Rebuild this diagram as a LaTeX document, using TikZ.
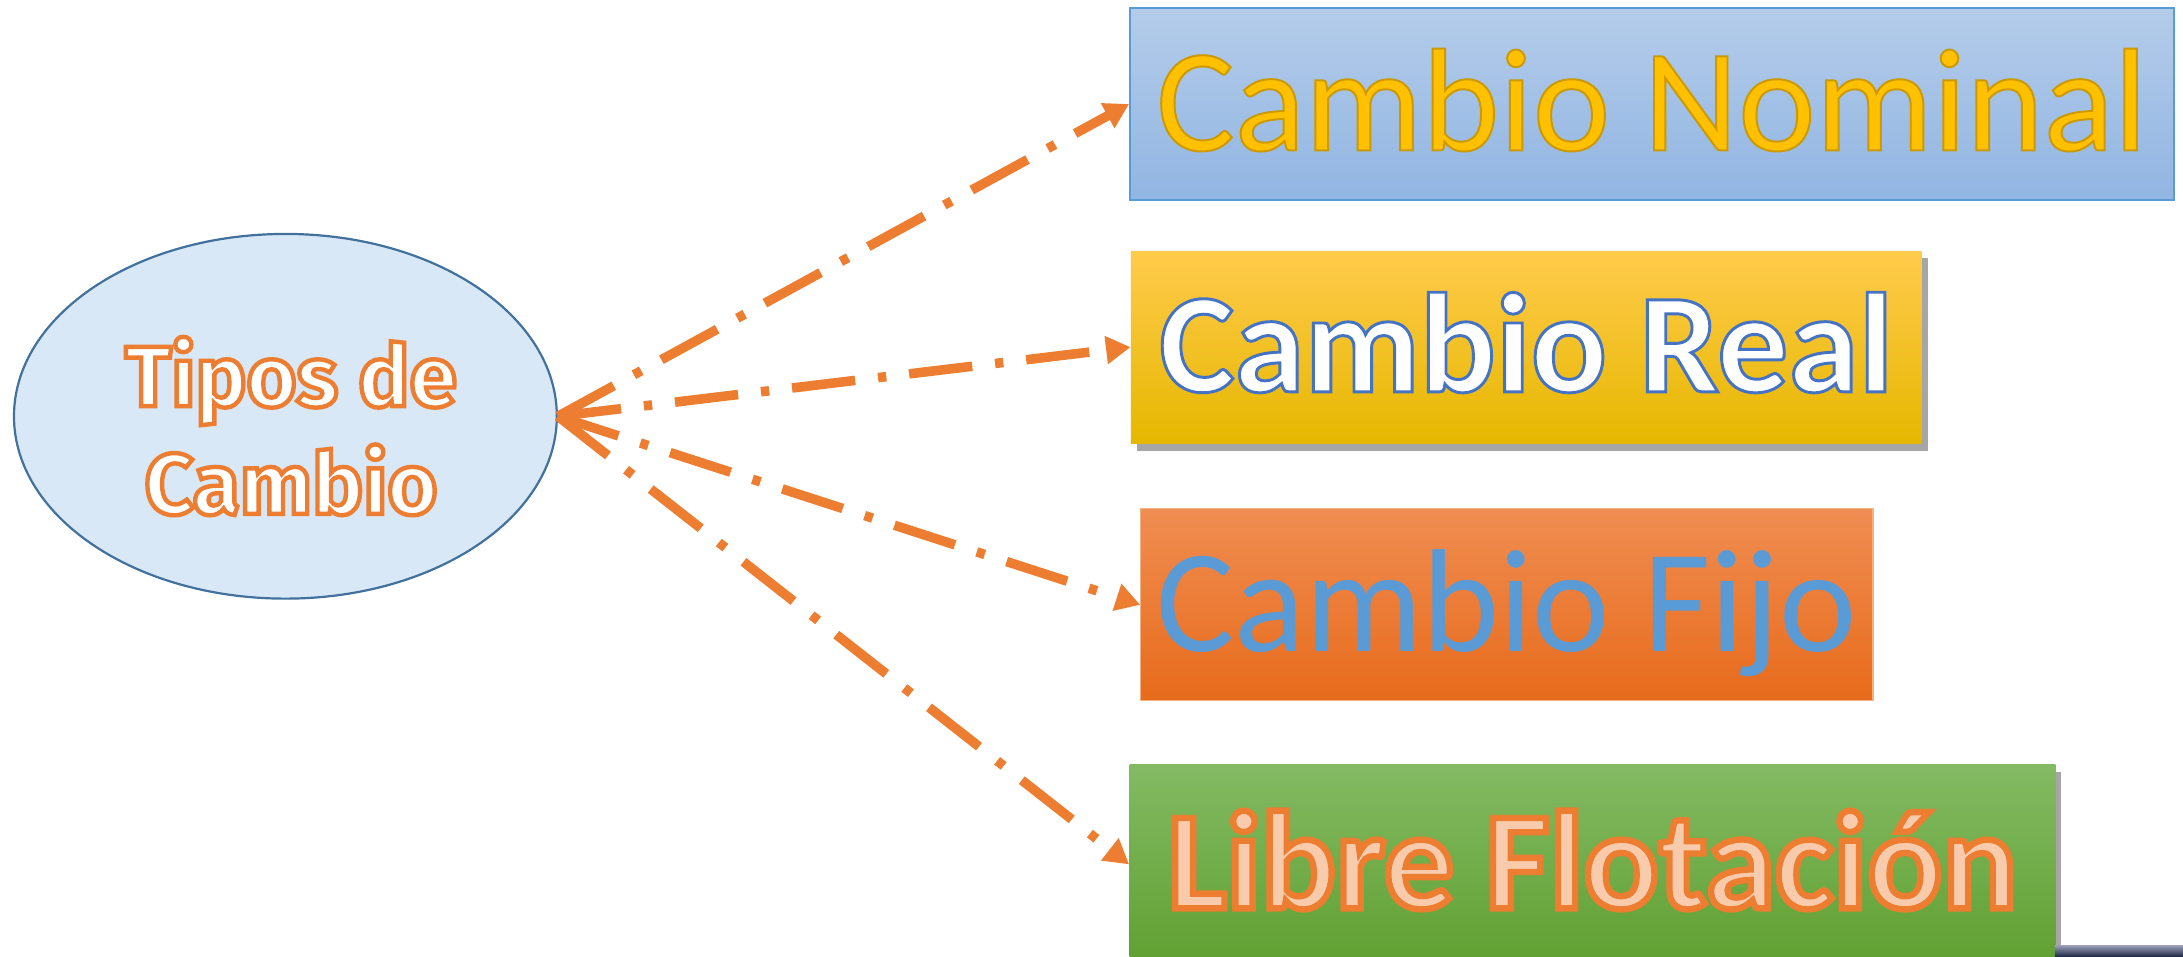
\documentclass[tikz,border=0pt]{standalone}
\usepackage{fontspec}
\setmainfont{Carlito}
\newfontfamily\tiposfont{Fira Sans}
\usetikzlibrary{arrows.meta,shadows,shapes.geometric}

\definecolor{arrorange}{HTML}{ED7D31}
\definecolor{ellfill}{HTML}{D9E8F7}
\definecolor{ellborder}{HTML}{41719C}
\definecolor{nomtop}{HTML}{B4CCEA}
\definecolor{nombot}{HTML}{91B5E2}
\definecolor{nomborder}{HTML}{5B9BD5}
\definecolor{nomgold}{HTML}{FFC000}
\definecolor{realtop}{HTML}{FFCB4C}
\definecolor{realmid}{HTML}{FFC000}
\definecolor{realbot}{HTML}{E6B700}
\definecolor{fijotop}{HTML}{F08D52}
\definecolor{fijobot}{HTML}{E76B1B}
\definecolor{fijoborder}{HTML}{F4B183}
\definecolor{fijoblue}{HTML}{5B9BD5}
\definecolor{libretop}{HTML}{83BA63}
\definecolor{librebot}{HTML}{60A031}
\definecolor{librepeach}{HTML}{F8CBAD}
\definecolor{barlight}{HTML}{9BA0B8}
\definecolor{bardark}{HTML}{1E2847}

% text filled in the current colour and stroked (outlined) in an rgb colour
% #1 stroke width (bp), #2 "r g b" of the stroke, #3 text
\newcommand{\strokedtext}[3]{\special{pdf:bcontent}\special{pdf:code 2 Tr #1 w #2 RG}#3\special{pdf:econtent}}
\newcommand{\orangergb}{0.929 0.490 0.192}

\begin{document}
\begin{tikzpicture}[x=0.02cm,y=-0.02cm,
  conn/.style={draw=arrorange, line width=3.9pt,
    dash pattern=on 26pt off 9.4pt on 3.4pt off 9.4pt,
    -{Triangle[length=10pt,width=11pt]}},
  box/.style={rectangle, anchor=north west, inner sep=0pt,
    minimum height=2.76cm, text height=38pt, text depth=0pt,
    font=\fontsize{60}{60}\selectfont},
  shadowbox/.style={drop shadow={shadow xshift=2.5pt, shadow yshift=-3pt, fill=black, opacity=0.35}}
]
\useasboundingbox (0,0) rectangle (1568,687);

% central ellipse
\node[ellipse, draw=ellborder, line width=0.9pt, fill=ellfill,
  minimum width=7.8cm, minimum height=5.24cm, inner sep=0pt] (tipos) at (205,299) {};
\node[font=\tiposfont\bfseries\fontsize{35}{44}\selectfont, align=center, text=white]
  (tiposlabel) at (209,306)
  {\strokedtext{1.8}{\orangergb}{Tipos de}\\\strokedtext{1.8}{\orangergb}{Cambio}};

% boxes
\node[box, top color=nomtop, bottom color=nombot, draw=nomborder, line width=0.8pt,
  minimum width=15cm, text=nomgold] (nom) at (811,5)
  {\strokedtext{0.8}{0.80 0.60 0.0}{Cambio Nominal}};
\node[box, shadowbox, top color=realtop, middle color=realmid, bottom color=realbot,
  minimum width=11.36cm, text=white, text height=36.5pt,
  font=\fontsize{58}{58}\selectfont\bfseries] (real) at (812,180)
  {\strokedtext{1.2}{0.267 0.447 0.769}{Cambio Real}};
\node[box, top color=fijotop, bottom color=fijobot, draw=fijoborder, line width=0.5pt,
  minimum width=10.52cm, text=fijoblue] (fijo) at (819,365)
  {Cambio Fijo};
\node[box, shadowbox, top color=libretop, bottom color=librebot,
  minimum width=13.3cm, minimum height=2.86cm, text=librepeach, text height=36pt,
  font=\fontsize{57}{57}\selectfont\bfseries] (libre) at (811,549)
  {\strokedtext{2.6}{\orangergb}{Libre Flotación}};

% bottom right bar
\fill[top color=barlight, bottom color=bardark] (1476,679) rectangle (1568,687);

% connectors
\draw[conn] (tipos.east) -- (nom.west);
\draw[conn] (tipos.east) -- (real.west);
\draw[conn] (tipos.east) -- (fijo.west);
\draw[conn] (tipos.east) -- (libre.west);
\end{tikzpicture}
\end{document}
